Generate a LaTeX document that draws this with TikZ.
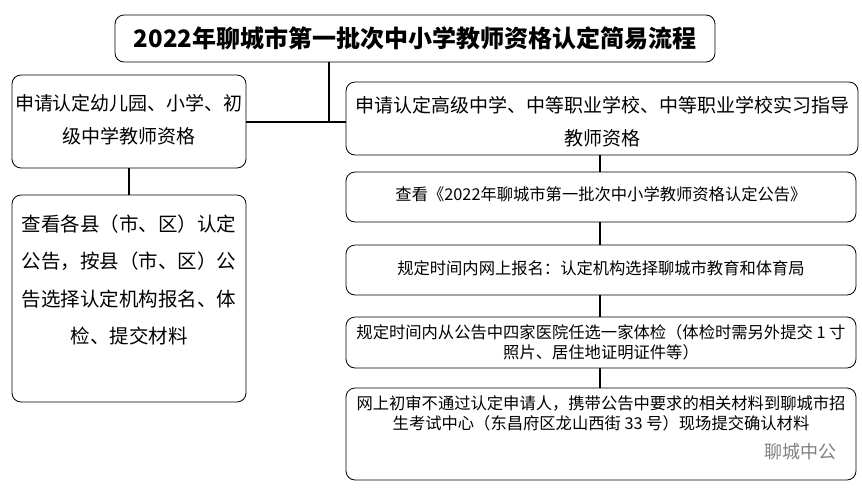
\documentclass[tikz,border=0pt]{standalone}
\usepackage{fontspec}
\newfontfamily\cjk{Noto Sans CJK SC}
\begin{document}
\begin{tikzpicture}[x=1pt,y=-1pt,
  box/.style={draw,rounded corners=9pt,line width=0.8pt},
  lbl/.style={font=\cjk\fontsize{19}{19}\selectfont,align=center},
  sm/.style={font=\cjk\fontsize{16.3}{20}\selectfont,align=center},
  conn/.style={line width=2.6pt}]
\useasboundingbox (0,0) rectangle (862,488);
\draw[box] (115,15) rectangle (715,62);
\node[font=\cjk\bfseries\fontsize{24}{24}\selectfont] (t) at (415,38.5) {2022年聊城市第一批次中小学教师资格认定简易流程};
\coordinate (tb) at (329,62);
\draw[box] (12,75) rectangle (246,168);
\node[lbl] (l1) at (129,120) {申请认定幼儿园、小学、初\\[14pt]级中学教师资格};
\draw[box] (346,82) rectangle (858,155);
\node[lbl] (r1) at (602,122) {申请认定高级中学、中等职业学校、中等职业学校实习指导\\[14pt]教师资格};
\draw[box] (12,195) rectangle (246,402);
\node[font=\cjk\fontsize{19.5}{19.5}\selectfont,align=center] (l2) at (129,280) {查看各县（市、区）认定\\[18pt]公告，按县（市、区）公\\[18pt]告选择认定机构报名、体\\[18pt]检、提交材料};
\draw[box] (346,172) rectangle (856,222);
\node[sm] (r2) at (601,194) {查看《2022年聊城市第一批次中小学教师资格认定公告》};
\draw[box] (346,245) rectangle (856,295);
\node[sm] (r3) at (601,268) {规定时间内网上报名：认定机构选择聊城市教育和体育局};
\draw[box] (346,317) rectangle (856,368);
\node[sm] (r4) at (601,342) {规定时间内从公告中四家医院任选一家体检（体检时需另外提交 1 寸\\照片、居住地证明证件等）};
\draw[box] (346,388) rectangle (856,480);
\node[sm] (r5) at (601,413) {网上初审不通过认定申请人，携带公告中要求的相关材料到聊城市招\\生考试中心（东昌府区龙山西街 33 号）现场提交确认材料};
\node[font=\cjk\fontsize{18}{18}\selectfont,text=gray] (wm) at (800,452) {聊城中公};
\draw[conn] (tb) -- (329,122);
\draw[conn] (246,122) -- (346,122);
\draw[conn] (129,168) -- (129,195);
\draw[conn] (600,155) -- (600,172);
\draw[conn] (600,222) -- (600,245);
\draw[conn] (600,295) -- (600,317);
\draw[conn] (600,368) -- (600,388);
\end{tikzpicture}
\end{document}
